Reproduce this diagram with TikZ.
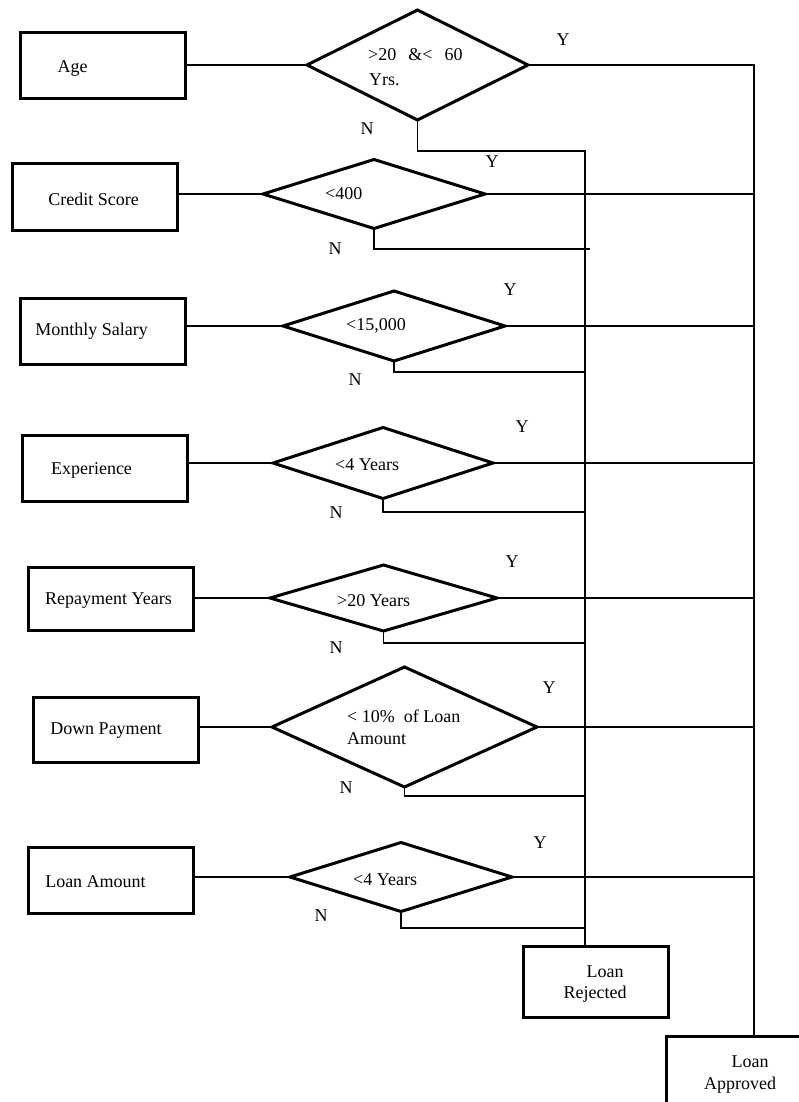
\documentclass[tikz,border=0pt]{standalone}
\usepackage{fontspec}
\setmainfont{Liberation Serif}
\usetikzlibrary{shapes.geometric}
\begin{document}
\begin{tikzpicture}[x=1pt,y=-1pt,
  inbox/.style={draw, line width=3pt, rectangle, minimum width=165pt, minimum height=66pt, inner sep=0pt, outer sep=0pt},
  decide/.style={draw, line width=3pt, diamond, inner sep=0pt, outer sep=0pt, line join=miter},
  txt/.style={inner sep=0pt, font=\fontsize{18}{21}\selectfont},
  ltxt/.style={txt, anchor=west},
  conn/.style={line width=1.5pt}
]
\useasboundingbox (0,0) rectangle (799,1102);
\fill[white] (0,0) rectangle (799,1102);

% input boxes
\node[inbox] (b1) at (102.5,66) {};
\node[inbox] (b2) at (94.5,197) {};
\node[inbox] (b3) at (102.5,331) {};
\node[inbox] (b4) at (104.5,468) {};
\node[inbox, minimum height=63pt] (b5) at (110.5,598.5) {};
\node[inbox, minimum height=65pt] (b6) at (115.5,729.5) {};
\node[inbox] (b7) at (110.5,880) {};

\node[txt] (t1) at (72.5,69) {Age};
\node[txt] (t2) at (93.5,199) {Credit Score};
\node[txt] (t3) at (91.5,331) {Monthly Salary};
\node[txt] (t4) at (91.5,470) {Experience};
\node[txt] (t5) at (108.5,601) {Repayment Years};
\node[txt] (t6) at (106,731) {Down Payment};
\node[txt] (t7) at (95.5,882) {Loan Amount};

% decisions
\node[decide, minimum width=221pt, minimum height=110pt] (d1) at (417.5,65) {};
\node[decide, minimum width=222pt, minimum height=69pt] (d2) at (374,194) {};
\node[decide, minimum width=222pt, minimum height=70pt] (d3) at (394,326) {};
\node[decide, minimum width=220pt, minimum height=71pt] (d4) at (383,463) {};
\node[decide, minimum width=227pt, minimum height=66pt] (d5) at (383.5,598) {};
\node[decide, minimum width=265pt, minimum height=120pt] (d6) at (404.5,727) {};
\node[decide, minimum width=222pt, minimum height=69pt] (d7) at (401,877) {};

\node[ltxt] (q1a) at (368,55) {>20\hspace{12pt}\&<\hspace{12pt}60};
\node[ltxt] (q1b) at (369,80) {Yrs.};
\node[ltxt] (q2) at (325,194) {<400};
\node[ltxt] (q3) at (346,326) {<15,000};
\node[ltxt] (q4) at (335,465) {<4 Years};
\node[ltxt] (q5) at (337,601) {>20 Years};
\node[ltxt] (q6a) at (347,716) {<\ 10\%\ \ of Loan};
\node[ltxt] (q6b) at (347,739) {Amount};
\node[ltxt] (q7) at (353,880) {<4 Years};

% outcomes
\node[inbox, minimum width=145pt, minimum height=71pt] (rej) at (595.5,981.5) {};
\node[txt] (rejt1) at (605,972) {Loan};
\node[txt] (rejt2) at (595,994) {Rejected};
\node[inbox, minimum width=190pt, minimum height=100pt] (app) at (761,1086) {};
\node[txt] (appt1) at (750,1062) {Loan};
\node[txt] (appt2) at (740,1085) {Approved};

% junction coordinates
\coordinate (atop) at (754,65);
\coordinate (rtop) at (585,151);
\coordinate (n2) at (590,249);
\coordinate (n3) at (585,372);
\coordinate (n4) at (585,512);
\coordinate (n5) at (585,643);
\coordinate (n6) at (585,796);
\coordinate (n7) at (585,928);

% box to decision
\foreach \i in {1,...,7} {
  \draw[conn] (b\i.east |- d\i.west) -- (d\i.west);
}
% yes branches
\draw[conn] (d1.east) -- (atop) -- (atop |- app.north);
\foreach \i in {2,...,7} {
  \draw[conn] (d\i.east) -- (d\i.east -| atop);
}
% no branches
\draw[conn] (d1.south) |- (rtop) -- (rtop |- rej.north);
\draw[conn] (d2.south) |- (n2);
\draw[conn] (d3.south) |- (n3);
\draw[conn] (d4.south) |- (n4);
\draw[conn] (d5.south) |- (n5);
\draw[conn] (d6.south) |- (n6);
\draw[conn] (d7.south) |- (n7);

% labels
\node[txt] (y1) at (563,40) {Y};
\node[txt] (y2) at (492,162) {Y};
\node[txt] (y3) at (510,290) {Y};
\node[txt] (y4) at (522,427) {Y};
\node[txt] (y5) at (512,562) {Y};
\node[txt] (y6) at (549,688) {Y};
\node[txt] (y7) at (540,843) {Y};
\node[txt] (no1) at (367,129) {N};
\node[txt] (no2) at (335,249) {N};
\node[txt] (no3) at (355,380) {N};
\node[txt] (no4) at (336,513) {N};
\node[txt] (no5) at (336,648) {N};
\node[txt] (no6) at (346,788) {N};
\node[txt] (no7) at (321,916) {N};
\end{tikzpicture}
\end{document}
